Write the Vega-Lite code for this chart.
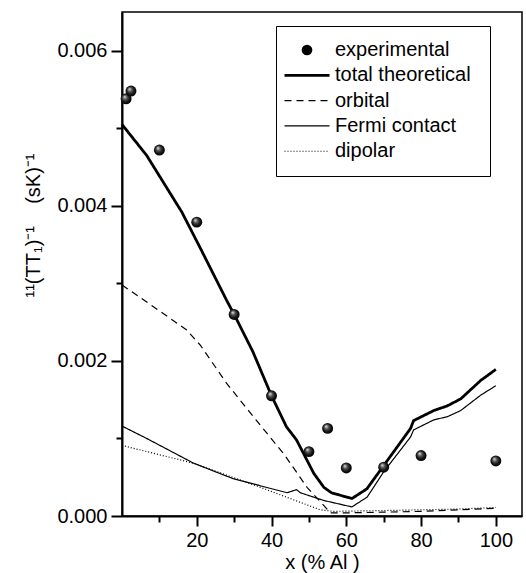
{
  "$schema": "https://vega.github.io/schema/vega-lite/v6.json",
  "width": 400,
  "height": 504,
  "autosize": {"type": "none"},
  "padding": {"left": 122, "top": 12, "right": 4, "bottom": 57},
  "background": "white",
  "config": {
    "font": "Liberation Sans",
    "view": {"stroke": "black", "strokeWidth": 1.5},
    "axis": {
      "grid": false,
      "domainColor": "black",
      "domainWidth": 2,
      "tickColor": "black",
      "tickWidth": 2,
      "labelColor": "black",
      "labelFont": "Liberation Sans",
      "labelFontSize": 20,
      "titleColor": "black",
      "titleFont": "Liberation Sans",
      "titleFontSize": 20,
      "titleFontWeight": "normal"
    },
    "legend": {
      "labelFont": "Liberation Sans",
      "labelFontSize": 20,
      "labelColor": "black",
      "titleFontSize": 20,
      "symbolSize": 2025
    }
  },
  "data": {
    "values": [
      {"series": "experimental", "x": 1.1, "y": 0.00538},
      {"series": "experimental", "x": 2.4, "y": 0.00548},
      {"series": "experimental", "x": 10, "y": 0.00472},
      {"series": "experimental", "x": 20, "y": 0.00379},
      {"series": "experimental", "x": 30, "y": 0.0026},
      {"series": "experimental", "x": 40, "y": 0.00155},
      {"series": "experimental", "x": 50, "y": 0.00083},
      {"series": "experimental", "x": 55, "y": 0.00113},
      {"series": "experimental", "x": 60, "y": 0.00062},
      {"series": "experimental", "x": 70, "y": 0.00063},
      {"series": "experimental", "x": 80, "y": 0.00078},
      {"series": "experimental", "x": 100, "y": 0.00071},

      {"series": "total theoretical", "x": 0, "y": 0.00505},
      {"series": "total theoretical", "x": 6.6, "y": 0.00465},
      {"series": "total theoretical", "x": 16, "y": 0.00392},
      {"series": "total theoretical", "x": 21, "y": 0.00345},
      {"series": "total theoretical", "x": 28, "y": 0.00278},
      {"series": "total theoretical", "x": 30, "y": 0.0026},
      {"series": "total theoretical", "x": 35, "y": 0.00212},
      {"series": "total theoretical", "x": 40, "y": 0.00155},
      {"series": "total theoretical", "x": 44, "y": 0.00115},
      {"series": "total theoretical", "x": 46.7, "y": 0.00098},
      {"series": "total theoretical", "x": 51.3, "y": 0.00055},
      {"series": "total theoretical", "x": 54, "y": 0.00037},
      {"series": "total theoretical", "x": 56, "y": 0.0003},
      {"series": "total theoretical", "x": 61.5, "y": 0.000225},
      {"series": "total theoretical", "x": 65.5, "y": 0.00035},
      {"series": "total theoretical", "x": 70, "y": 0.00065},
      {"series": "total theoretical", "x": 77.2, "y": 0.00113},
      {"series": "total theoretical", "x": 78, "y": 0.00123},
      {"series": "total theoretical", "x": 83.4, "y": 0.00136},
      {"series": "total theoretical", "x": 87, "y": 0.00142},
      {"series": "total theoretical", "x": 90.6, "y": 0.00151},
      {"series": "total theoretical", "x": 96, "y": 0.00175},
      {"series": "total theoretical", "x": 100, "y": 0.00189},

      {"series": "orbital", "x": 0, "y": 0.00298},
      {"series": "orbital", "x": 8.4, "y": 0.0027},
      {"series": "orbital", "x": 17.3, "y": 0.0024},
      {"series": "orbital", "x": 21, "y": 0.0022},
      {"series": "orbital", "x": 28, "y": 0.00171},
      {"series": "orbital", "x": 36, "y": 0.00123},
      {"series": "orbital", "x": 43.3, "y": 0.0008},
      {"series": "orbital", "x": 49.5, "y": 0.00037},
      {"series": "orbital", "x": 55.8, "y": 0.00004},
      {"series": "orbital", "x": 60, "y": 0.00004},
      {"series": "orbital", "x": 70, "y": 0.00005},
      {"series": "orbital", "x": 80, "y": 0.00006},
      {"series": "orbital", "x": 90, "y": 0.00008},
      {"series": "orbital", "x": 100, "y": 0.0001},

      {"series": "Fermi contact", "x": 0, "y": 0.00116},
      {"series": "Fermi contact", "x": 6.6, "y": 0.001},
      {"series": "Fermi contact", "x": 19.2, "y": 0.00068},
      {"series": "Fermi contact", "x": 29.8, "y": 0.00048},
      {"series": "Fermi contact", "x": 44.2, "y": 0.0003},
      {"series": "Fermi contact", "x": 46.7, "y": 0.00034},
      {"series": "Fermi contact", "x": 47.7, "y": 0.0003},
      {"series": "Fermi contact", "x": 54, "y": 0.0002},
      {"series": "Fermi contact", "x": 61.5, "y": 0.000117},
      {"series": "Fermi contact", "x": 65.6, "y": 0.000245},
      {"series": "Fermi contact", "x": 70, "y": 0.00057},
      {"series": "Fermi contact", "x": 77.2, "y": 0.00102},
      {"series": "Fermi contact", "x": 78, "y": 0.00111},
      {"series": "Fermi contact", "x": 83.4, "y": 0.00124},
      {"series": "Fermi contact", "x": 87, "y": 0.00128},
      {"series": "Fermi contact", "x": 90.6, "y": 0.00136},
      {"series": "Fermi contact", "x": 96, "y": 0.00156},
      {"series": "Fermi contact", "x": 100, "y": 0.00168},

      {"series": "dipolar", "x": 0, "y": 0.00091},
      {"series": "dipolar", "x": 19.2, "y": 0.00068},
      {"series": "dipolar", "x": 37, "y": 0.00037},
      {"series": "dipolar", "x": 53, "y": 0.00008},
      {"series": "dipolar", "x": 56.6, "y": 0.00006},
      {"series": "dipolar", "x": 70, "y": 0.00007},
      {"series": "dipolar", "x": 80, "y": 0.00008},
      {"series": "dipolar", "x": 90, "y": 0.00009},
      {"series": "dipolar", "x": 100, "y": 0.00011}
    ]
  },
  "encoding": {
    "x": {
      "field": "x",
      "type": "quantitative",
      "scale": {"domain": [0, 107], "nice": false, "zero": false},
      "axis": {
        "title": "x (% Al )",
        "values": [10, 20, 30, 40, 50, 60, 70, 80, 90, 100],
        "labelExpr": "datum.value % 20 === 0 ? datum.label : ''",
        "tickSize": {"condition": {"test": "datum.value % 20 === 0", "value": 10}, "value": 6},
        "labelPadding": 4,
        "titlePadding": 2
      }
    },
    "y": {
      "field": "y",
      "type": "quantitative",
      "scale": {"domain": [0, 0.0065], "nice": false},
      "axis": {
        "title": "¹¹(TT₁)⁻¹\u00a0\u00a0\u00a0\u00a0(sK)⁻¹",
        "values": [0, 0.001, 0.002, 0.003, 0.004, 0.005, 0.006],
        "format": ".3f",
        "labelExpr": "round(datum.value * 1000) % 2 === 0 ? datum.label : ''",
        "tickSize": {"condition": {"test": "round(datum.value * 1000) % 2 === 0", "value": 11}, "value": 6},
        "labelPadding": 4,
        "titleAngle": -90,
        "titleX": -83,
        "titleY": 213,
        "titleAlign": "center",
        "titleBaseline": "alphabetic"
      }
    }
  },
  "layer": [
    {
      "transform": [{"filter": "datum.series !== 'experimental'"}],
      "mark": {"type": "line", "color": "black", "strokeCap": "butt"},
      "encoding": {
        "strokeDash": {
          "field": "series",
          "type": "nominal",
          "scale": {
            "domain": ["experimental", "total theoretical", "orbital", "Fermi contact", "dipolar"],
            "range": [[1, 0], [1, 0], [7, 5], [1, 0], [1, 2]]
          },
          "legend": {
            "orient": "none", "legendX": 154, "legendY": 14,
            "title": "\u00a0\u00a0\u00a0\u00a0\u00a0\u00a0\u00a0\u00a0\u00a0\u00a0\u00a0\u00a0\u00a0", "titleOrient": "right",
            "strokeColor": "black", "fillColor": "white", "padding": 14, "symbolOffset": 7, "labelOffset": 18, "rowPadding": 5.3,
            "encoding": {
              "symbols": {
                "stroke": {"value": "black"},
                "fill": {"value": "black"},
                "strokeWidth": {"value": {"expr": "datum.value === 'total theoretical' ? 2.8 : (datum.value === 'experimental' ? 0 : 1.1)"}},
                "size": {"value": {"expr": "datum.value === 'experimental' ? 115 : 2025"}}
              }
            }
          }
        },
        "strokeWidth": {
          "condition": {"test": "datum.series === 'total theoretical'", "value": 2.8},
          "value": 1.2
        }
      }
    },
    {
      "transform": [{"filter": "datum.series === 'experimental'"}],
      "mark": {
        "type": "point",
        "filled": true,
        "opacity": 1,
        "size": 120,
        "fill": {
          "gradient": "radial",
          "x1": 0.35, "y1": 0.3, "r1": 0,
          "x2": 0.5, "y2": 0.5, "r2": 0.55,
          "stops": [
            {"offset": 0, "color": "#f4f4f4"},
            {"offset": 0.35, "color": "#555555"},
            {"offset": 0.7, "color": "#111111"},
            {"offset": 1, "color": "#000000"}
          ]
        }
      },
      "encoding": {
        "shape": {
          "field": "series",
          "type": "nominal",
          "scale": {
            "domain": ["experimental", "total theoretical", "orbital", "Fermi contact", "dipolar"],
            "range": ["circle", "stroke", "stroke", "stroke", "stroke"]
          },
          "legend": {
            "orient": "none", "legendX": 154, "legendY": 14,
            "title": "\u00a0\u00a0\u00a0\u00a0\u00a0\u00a0\u00a0\u00a0\u00a0\u00a0\u00a0\u00a0\u00a0", "titleOrient": "right",
            "strokeColor": "black", "fillColor": "white", "padding": 14, "symbolOffset": 7, "labelOffset": 18, "rowPadding": 5.3,
            "encoding": {
              "symbols": {
                "stroke": {"value": "black"},
                "fill": {"value": "black"},
                "strokeWidth": {"value": {"expr": "datum.value === 'total theoretical' ? 2.8 : (datum.value === 'experimental' ? 0 : 1.1)"}},
                "size": {"value": {"expr": "datum.value === 'experimental' ? 115 : 2025"}}
              }
            }
          }
        }
      }
    }
  ]
}
